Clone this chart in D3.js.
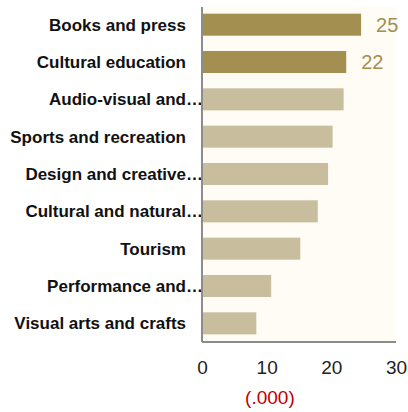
<!DOCTYPE html>
<html>
<head>
<meta charset="utf-8">
<script src="https://cdn.jsdelivr.net/npm/d3@7"></script>
<style>
  body { margin: 0; background: #fff; }
  text { font-family: "Liberation Sans", Arial, sans-serif; }
</style>
</head>
<body>
<div id="chart-area"></div>
<script>
// values in thousands
var categories = ["Books and press", "Cultural education", "Audio-visual and…",
  "Sports and recreation", "Design and creative…", "Cultural and natural…",
  "Tourism", "Performance and…", "Visual arts and crafts"];
var values = [24.6, 22.3, 21.9, 20.2, 19.5, 17.9, 15.2, 10.7, 8.4];
var highlighted = [true, true, false, false, false, false, false, false, false];
var tickValues = [0, 10, 20, 30];
var unitLabel = "(.000)";

var svg = d3.select("#chart-area").append("svg")
    .attr("width", 408)
    .attr("height", 412);

var margin = {left: 202, top: 6, right: 12, bottom: 70};
var plotH = 412 - margin.top - margin.bottom;

var x = d3.scaleLinear()
    .domain([0, 30])
    .range([0, 194]);

var y = d3.scaleBand()
    .domain(categories)
    .range([0, plotH])
    .paddingInner(0.41)
    .paddingOuter(0.205);

var g = svg.append("g")
    .attr("transform", "translate(" + margin.left + "," + margin.top + ")");

// plot background
g.append("rect")
    .attr("x", 0).attr("y", 1)
    .attr("width", x(30)).attr("height", plotH - 1)
    .attr("fill", "#fffcf6");

var data = categories.map((c, i) => ({name: c, value: values[i], hi: highlighted[i]}));

g.selectAll("rect.bar")
    .data(data)
    .enter()
    .append("rect")
        .attr("class", "bar")
        .attr("x", 0)
        .attr("y", (d) => y(d.name))
        .attr("width", (d) => x(d.value))
        .attr("height", y.bandwidth())
        .attr("fill", (d) => d.hi ? "#a38f4f" : "#c8bd9d");

// value labels on highlighted bars
g.selectAll("text.val")
    .data(data.filter((d) => d.hi))
    .enter()
    .append("text")
        .attr("class", "val")
        .attr("x", (d) => x(d.value) + 15)
        .attr("y", (d) => y(d.name) + y.bandwidth() / 2)
        .attr("dy", "0.35em")
        .attr("font-size", 20)
        .attr("fill", "#a38f4f")
        .text((d) => Math.round(d.value));

// category labels
g.selectAll("text.cat")
    .data(data)
    .enter()
    .append("text")
        .attr("class", "cat")
        .attr("x", (d) => d.name.endsWith("…") ? 1 : -16)
        .attr("y", (d) => y(d.name) + y.bandwidth() / 2)
        .attr("dy", "0.35em")
        .attr("text-anchor", "end")
        .attr("font-size", 17)
        .attr("font-weight", "bold")
        .attr("fill", "#111")
        .text((d) => d.name);

// axis lines
g.append("line")
    .attr("x1", 0).attr("x2", 0)
    .attr("y1", 1).attr("y2", plotH)
    .attr("stroke", "#8c8c8c").attr("stroke-width", 2);
g.append("line")
    .attr("x1", 0).attr("x2", x(30))
    .attr("y1", plotH).attr("y2", plotH)
    .attr("stroke", "#8c8c8c").attr("stroke-width", 2);

// x ticks
var xAxis = g.append("g")
    .attr("transform", "translate(0," + plotH + ")")
    .call(d3.axisBottom(x).tickValues(tickValues).tickSize(0).tickPadding(19));
xAxis.select(".domain").remove();
xAxis.selectAll("text")
    .attr("font-size", 19)
    .attr("fill", "#222")
    .attr("font-family", "Liberation Sans, Arial, sans-serif");

g.append("text")
    .attr("x", x(10.5))
    .attr("y", plotH + 62)
    .attr("text-anchor", "middle")
    .attr("font-size", 19)
    .attr("fill", "#c00000")
    .text(unitLabel);
</script>
</body>
</html>
